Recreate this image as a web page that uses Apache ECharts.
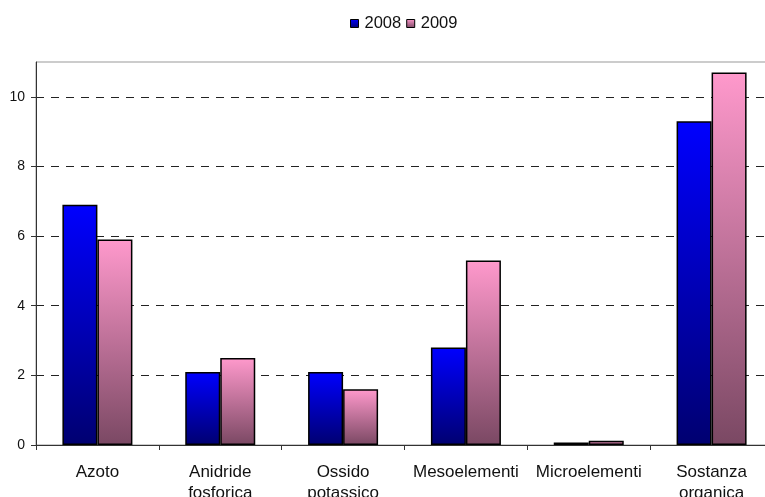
<!DOCTYPE html>
<html>
<head>
<meta charset="utf-8">
<script src="https://cdn.jsdelivr.net/npm/echarts@6/dist/echarts.min.js"></script>
<style>
  html, body { margin: 0; padding: 0; background: #fff; }
  #chart { width: 765px; height: 497px; }
</style>
</head>
<body>
<div id="chart"></div>
<script>
// Nutrient categories on the x axis
const categories = ['Azoto', 'Anidride\nfosforica', 'Ossido\npotassico', 'Mesoelementi', 'Microelementi', 'Sostanza\norganica'];
// Yearly values per nutrient
const values2008 = [6.9, 2.1, 2.1, 2.8, 0.07, 9.3];
const values2009 = [5.9, 2.5, 1.6, 5.3, 0.12, 10.7];
const seriesNames = ['2008', '2009'];

function vGrad(top, bottom) {
  return new echarts.graphic.LinearGradient(0, 0, 0, 1, [
    { offset: 0, color: top },
    { offset: 1, color: bottom }
  ]);
}

const chart = echarts.init(document.getElementById('chart'), null, { renderer: 'canvas' });
const font = 'Liberation Sans, Arial, sans-serif';

chart.setOption({
  animation: false,
  textStyle: { fontFamily: font, color: '#111' },
  legend: {
    top: 15,
    left: 350,
    padding: 0,
    itemWidth: 8,
    itemHeight: 8,
    itemGap: 5,
    icon: 'rect',
    itemStyle: { borderColor: '#000', borderWidth: 1 },
    textStyle: { fontFamily: font, fontSize: 16.5, color: '#111', padding: [0, 0, 0, 1] },
    data: seriesNames
  },
  grid: {
    left: 36, width: 737, top: 62, bottom: 52,
    outerBoundsMode: 'none', containLabel: false,
    show: true, borderColor: '#999', borderWidth: 1
  },
  xAxis: {
    type: 'category',
    data: categories,
    axisLine: { lineStyle: { color: '#333', width: 1 } },
    axisTick: { show: true, length: 5, lineStyle: { color: '#333' } },
    axisLabel: { margin: 17, fontSize: 17, color: '#111', lineHeight: 21, interval: 0, fontFamily: font },
    splitLine: { show: false }
  },
  yAxis: {
    type: 'value',
    min: 0,
    max: 11,
    interval: 2,
    axisLine: { show: true, lineStyle: { color: '#333', width: 1 } },
    axisTick: { show: true, length: 5, inside: false, lineStyle: { color: '#333' } },
    axisLabel: { margin: 11, fontSize: 14, color: '#111', fontFamily: font, showMaxLabel: false,
      formatter: v => (v % 2 === 0 ? String(v) : '') },
    splitLine: { show: true, showMaxLine: false, lineStyle: { color: '#222', type: [8, 7], width: 1 } }
  },
  series: [
    {
      name: seriesNames[0],
      type: 'bar',
      data: values2008,
      barWidth: 35,
      barGap: '0%',
      itemStyle: { color: vGrad('#0000ff', '#000070'), borderColor: '#000', borderWidth: 1.5 }
    },
    {
      name: seriesNames[1],
      type: 'bar',
      data: values2009,
      barWidth: 35,
      itemStyle: { color: vGrad('#ff99cc', '#7a4863'), borderColor: '#000', borderWidth: 1.5 }
    }
  ]
});
</script>
</body>
</html>
